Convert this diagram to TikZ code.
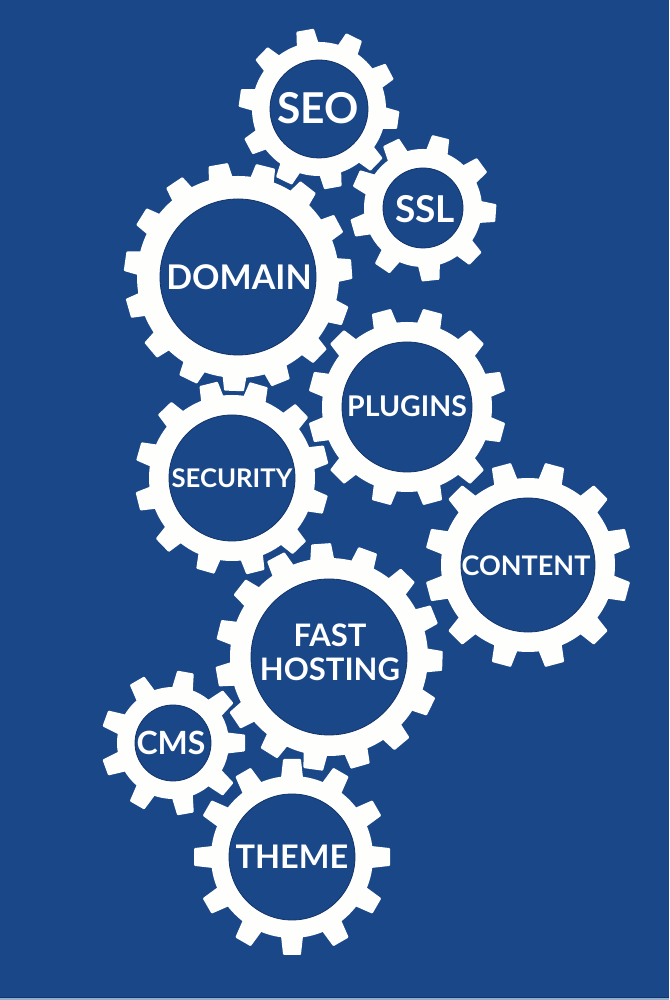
\documentclass[tikz,border=0pt]{standalone}
\usepackage{fontspec}
\setmainfont{Lato}
\definecolor{bgblue}{HTML}{1A4788}
\definecolor{holeedge}{HTML}{12346A}
\definecolor{gearwhite}{HTML}{FEFEFC}
\definecolor{edgelight}{HTML}{8FB0CC}
\newcommand{\gearshape}[9]{% name, cx, cy(px from top), R, root, hole, phase, teeth, half tip width
  \pgfmathsetmacro{\gcy}{1000-#3}
  \fill[gearfill] (#2,\gcy) circle[radius=#5];
  \foreach \i in {1,...,#8}{
    \pgfmathsetmacro{\ga}{#7+360*\i/#8}
    \fill[gearfill,shift={(#2,\gcy)},rotate=\ga]
      (#5-2,#9+2) -- (#4-1,#9) -- (#4,#9-1) -- (#4,-#9+1) -- (#4-1,-#9) -- (#5-2,-#9-2) -- cycle;
  }
  \node[gearhole,minimum size=2*#6] (#1) at (#2,\gcy) {};
}
\tikzset{
  gearfill/.style={fill=gearwhite},
  gearhole/.style={circle,fill=bgblue,draw=holeedge,line width=0.8pt,inner sep=0pt,outer sep=0pt},
  gearlabel/.style={text=white,inner sep=0pt,align=center,font=\bfseries},
}
\begin{document}
\begin{tikzpicture}[x=1pt,y=1pt]
\useasboundingbox (0,0) rectangle (669,1000);
\fill[bgblue] (0,0) rectangle (669,1000);
\fill[holeedge] (0,2) rectangle (669,3);
\fill[edgelight] (0,0) rectangle (669,2);
\gearshape{seo}{319}{109}{80}{67}{49}{28}{10}{9}
\gearshape{ssl}{423}{208}{73}{59}{40}{-4}{9}{9}
\gearshape{domain}{238}{277}{114}{101}{78}{4}{15}{10}
\gearshape{plugins}{407}{407}{99}{85}{65}{15}{12}{10}
\gearshape{security}{232}{478}{97}{83}{63}{14}{12}{9.5}
\gearshape{content}{528}{565}{103}{87}{67}{15}{12}{10}
\gearshape{hosting}{329}{657}{113.5}{99}{78}{-2}{15}{10}
\gearshape{cms}{173}{743}{72}{56}{38}{0}{9}{8.5}
\gearshape{theme}{292}{857}{98}{81}{63}{0}{12}{9}
\node[gearlabel,font=\bfseries\fontsize{42.5}{42.5}\selectfont] (seotext) at (318,892) {SEO};
\node[gearlabel,font=\bfseries\fontsize{37}{37}\selectfont] (ssltext) at (425,791) {SSL};
\node[gearlabel,font=\bfseries\fontsize{34}{34}\selectfont] (domaintext) at (239,723) {DOMAIN};
\node[gearlabel,font=\bfseries\fontsize{28.5}{28.5}\selectfont] (pluginstext) at (407,594) {PLUGINS};
\node[gearlabel,font=\bfseries\fontsize{25.7}{25.7}\selectfont] (securitytext) at (232,522) {SECURITY};
\node[gearlabel,font=\bfseries\fontsize{27}{27}\selectfont] (contenttext) at (526,434) {CONTENT};
\node[gearlabel,font=\bfseries\fontsize{31}{34}\selectfont] (hostingtext) at (330,348) {FAST\\HOSTING};
\node[gearlabel,font=\bfseries\fontsize{32}{32}\selectfont] (cmstext) at (171,257) {CMS};
\node[gearlabel,font=\bfseries\fontsize{32.5}{32.5}\selectfont] (themetext) at (292,143) {THEME};
\end{tikzpicture}
\end{document}
